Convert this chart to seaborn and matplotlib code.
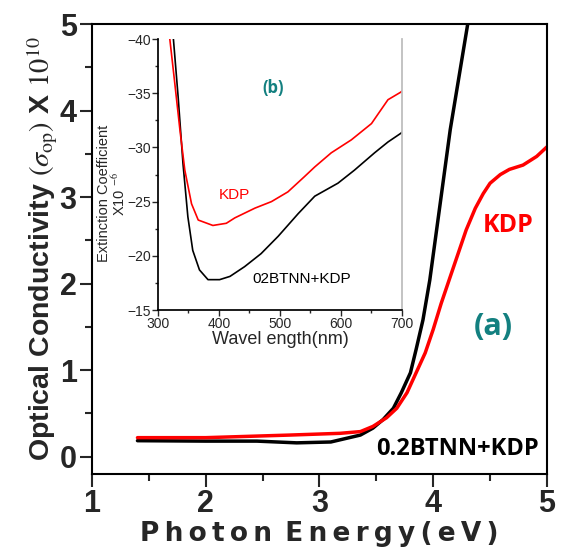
import matplotlib
matplotlib.use("Agg")
import matplotlib.pyplot as plt
from matplotlib.ticker import MultipleLocator
import seaborn as sns
import pandas as pd

# (a) optical conductivity vs photon energy
energy_blend = [1.40, 2.00, 2.45, 2.80, 3.10, 3.36, 3.47, 3.56, 3.65, 3.72, 3.80, 3.85, 3.91,
                3.97, 4.03, 4.09, 4.15, 4.31]
sigma_blend = [0.185, 0.18, 0.18, 0.16, 0.17, 0.25, 0.33, 0.43, 0.56, 0.74, 0.97, 1.24, 1.58,
               2.04, 2.62, 3.20, 3.78, 5.05]
energy_kdp = [1.40, 2.00, 2.74, 3.18, 3.36, 3.47, 3.59, 3.68, 3.77, 3.85, 3.93, 4.00, 4.07,
              4.15, 4.22, 4.29, 4.37, 4.44, 4.50, 4.59, 4.67, 4.79, 4.91, 5.00]
sigma_kdp = [0.22, 0.22, 0.25, 0.27, 0.29, 0.35, 0.45, 0.56, 0.74, 0.97, 1.20, 1.47, 1.77,
             2.08, 2.35, 2.62, 2.87, 3.04, 3.16, 3.26, 3.32, 3.37, 3.47, 3.58]

# (b) extinction coefficient vs wavelength
wl_kdp = [319, 327, 336, 344, 355, 366, 390, 412, 426, 459, 486, 513, 540, 557, 584, 617,
          650, 661, 677, 698, 700]
ext_kdp = [-40.2, -36.2, -31.6, -27.9, -24.8, -23.3, -22.8, -23.0, -23.5, -24.4, -25.0,
           -25.9, -27.3, -28.2, -29.5, -30.7, -32.2, -33.1, -34.4, -35.1, -35.2]
wl_blend = [325, 333, 341, 349, 357, 368, 382, 401, 418, 442, 469, 497, 530, 557, 595, 622,
            655, 677, 698, 700]
ext_blend = [-40.2, -34.7, -28.5, -23.6, -20.5, -18.7, -17.8, -17.8, -18.1, -19.0, -20.2,
             -21.8, -23.9, -25.5, -26.7, -27.9, -29.5, -30.5, -31.3, -31.4]

sns.set_theme(style="ticks")
plt.rcParams['font.family'] = ['Liberation Sans', 'DejaVu Sans']
plt.rcParams['mathtext.fontset'] = 'stix'
narrow = ['Liberation Sans Narrow', 'Liberation Sans']

fig = plt.figure(figsize=(5.65, 5.52), dpi=100)
ax = fig.add_axes([0.1628, 0.1413, 0.8052, 0.8152])

main_blend = pd.DataFrame({'E': energy_blend, 's': sigma_blend})
main_kdp = pd.DataFrame({'E': energy_kdp, 's': sigma_kdp})
sns.lineplot(data=main_blend, x='E', y='s', color='black', lw=2.5, ax=ax, estimator=None)
sns.lineplot(data=main_kdp, x='E', y='s', color='#ff0000', lw=2.5, ax=ax, estimator=None)

ax.set_xlim(1, 5)
ax.set_ylim(-0.2, 5)
ax.xaxis.set_major_locator(MultipleLocator(1))
ax.xaxis.set_minor_locator(MultipleLocator(0.5))
ax.yaxis.set_major_locator(MultipleLocator(1))
ax.yaxis.set_minor_locator(MultipleLocator(0.5))
ax.tick_params(which='major', direction='out', length=9, width=1.5, labelsize=22, pad=2)
ax.tick_params(which='minor', direction='out', length=5, width=1.5)
for lab in ax.get_xticklabels() + ax.get_yticklabels():
    lab.set_fontweight('bold')
for sp in ax.spines.values():
    sp.set_visible(True)
    sp.set_linewidth(1.5)
    sp.set_color('black')

xlab = '\u2009'.join('Photon') + '\u2002' + '\u2009'.join('Energy(eV)')
ax.set_xlabel(xlab, fontsize=19, fontweight='bold', family='DejaVu Sans', labelpad=1)
ax.set_ylabel(r'Optical Conductivity $(\sigma_{\rm op})$ X $10^{10}$', fontsize=20.5,
              fontweight='bold', labelpad=0)

ax.text(4.66, 2.67, 'KDP', color='#ff0000', fontsize=18, fontweight='bold',
        family='Open Sans', ha='center', va='center')
ax.text(4.53, 1.50, '(a)', color='#138080', fontsize=22, fontweight='bold',
        family='Open Sans', ha='center', va='center')
ax.text(4.21, 0.09, '0.2BTNN+KDP', color='black', fontsize=17, fontweight='bold',
        family='Open Sans', ha='center', va='center')

# inset
ins = fig.add_axes([0.2796, 0.4384, 0.4319, 0.4909])
ins.patch.set_alpha(0)
inset_blend = pd.DataFrame({'w': wl_blend, 'k': ext_blend})
inset_kdp = pd.DataFrame({'w': wl_kdp, 'k': ext_kdp})
sns.lineplot(data=inset_blend, x='w', y='k', color='black', lw=1.2, ax=ins, estimator=None)
sns.lineplot(data=inset_kdp, x='w', y='k', color='#ff0000', lw=1.2, ax=ins, estimator=None)
ins.set_xlim(300, 700)
ins.set_ylim(-15, -40)
ins.xaxis.set_major_locator(MultipleLocator(100))
ins.xaxis.set_minor_locator(MultipleLocator(50))
ins.yaxis.set_major_locator(MultipleLocator(5))
ins.yaxis.set_minor_locator(MultipleLocator(2.5))
ins.tick_params(which='major', direction='out', length=4, width=1, labelsize=10, pad=1)
ins.tick_params(which='minor', direction='out', length=2.5, width=1)
for lab in ins.get_xticklabels() + ins.get_yticklabels():
    lab.set_family(narrow)
ins.spines['top'].set_visible(False)
ins.spines['right'].set_color('#bbbbbb')
ins.spines['left'].set_color('black')
ins.spines['bottom'].set_color('black')
ins.set_xlabel('Wavel ength(nm)', fontsize=13, family=narrow, labelpad=0)
ins.set_ylabel('Extinction Coefficient\n' + r'X10 $^{-6}$', fontsize=10.5, family=narrow,
               linespacing=0.95)
ins.yaxis.set_label_coords(-0.125, 0.43)
ins.text(489, -35.5, '(b)', color='#138080', fontsize=12, fontweight='bold',
         family='Open Sans', ha='center', va='center')
ins.text(426, -25.6, 'KDP', color='#ff0000', fontsize=11, family=narrow,
         ha='center', va='center')
ins.text(535, -17.9, '02BTNN+KDP', color='black', fontsize=11, family=narrow,
         ha='center', va='center')

fig.savefig('out.png', dpi=100)
